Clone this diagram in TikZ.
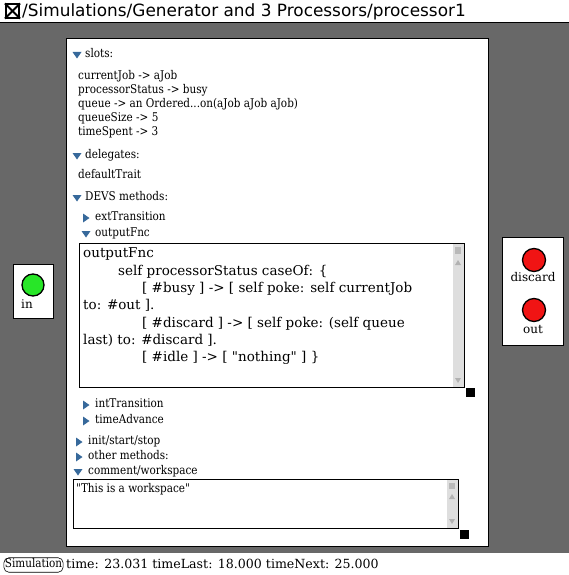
\documentclass[tikz,border=0pt]{standalone}
\usepackage{fontspec}
\setmainfont{DejaVu Serif}[Ligatures=TeXOff]
\newfontfamily\slotfont{DejaVu Serif}[FakeStretch=0.87, Ligatures=TeXOff]
\newfontfamily\titlefont{DejaVu Sans}
\definecolor{bggray}{RGB}{104,104,104}
\definecolor{tricol}{RGB}{55,105,155}
\definecolor{portgreen}{RGB}{40,230,40}
\definecolor{portred}{RGB}{240,20,20}
\definecolor{trackgray}{RGB}{222,222,222}
\begin{document}
\begin{tikzpicture}[x=1pt,y=-1pt,
  lbl/.style={anchor=west, inner sep=0, font=\slotfont\fontsize{12}{13}\selectfont, text height=8.5pt, text depth=3pt},
  codeln/.style={anchor=west, inner sep=0, font=\fontsize{13.5}{16}\selectfont, text height=10pt, text depth=3.5pt},
  portlbl/.style={inner sep=0, font=\fontsize{12}{14}\selectfont, text height=8.5pt, text depth=3pt},
  box/.style={draw=black, line width=0.8pt, fill=white},
  port/.style={draw=black, line width=1.3pt},
  handle/.style={fill=black},
  tdown/.pic={\fill[tricol] (-4.5,-3) -- (4.5,-3) -- (0,3.5) -- cycle;},
  tright/.pic={\fill[tricol] (-3,-4.5) -- (-3,4.5) -- (3.5,0) -- cycle;}
]
\useasboundingbox (0,0) rectangle (569,575);
\fill[white] (0,0) rectangle (569,575);
% gray workspace
\fill[bggray] (0,22) rectangle (569,553);
\draw[black, line width=1pt] (0,22.5) -- (569,22.5);

% title bar
\node[draw=black, line width=1.6pt, minimum size=13.5pt, inner sep=0] (closebox) at (12.5,11) {};
\draw[line width=2pt] (closebox.north west) -- (closebox.south east);
\draw[line width=2pt] (closebox.north east) -- (closebox.south west);
\node[anchor=west, inner sep=0, font=\titlefont\fontsize{16.9}{17}\selectfont] (title) at (22,11.5) {/Simulations/Generator and 3 Processors/processor1};

% main panel
\draw[box] (66,38) rectangle (488,546);

% slots
\pic at (77,55) {tdown};
\node[lbl] (slots) at (85,55) {slots:};
\node[lbl] (s1) at (78,77) {currentJob -> aJob};
\node[lbl] (s2) at (78,91) {processorStatus -> busy};
\node[lbl] (s3) at (78,105) {queue -> an Ordered...on(aJob aJob aJob)};
\node[lbl] (s4) at (78,119) {queueSize -> 5};
\node[lbl] (s5) at (78,133) {timeSpent -> 3};
% delegates
\pic at (77,156) {tdown};
\node[lbl] (deleg) at (85,156) {delegates:};
\node[lbl] (deftrait) at (78,176) {defaultTrait};
% DEVS methods
\pic at (77,198) {tdown};
\node[lbl] (devs) at (85,198) {DEVS methods:};
\pic at (86,218) {tright};
\node[lbl] (ext) at (95,218) {extTransition};
\pic at (86,234) {tdown};
\node[lbl] (outfnc) at (95,234) {outputFnc};

% code box
\draw[box] (79,243) rectangle (464,387);
\fill[trackgray] (453,244) rectangle (463.5,386.5);
\fill[gray!55] (455,247) rectangle (461,254);
\fill[gray!60] (455,265) -- (461,265) -- (458,260) -- cycle;
\fill[gray!60] (455,378) -- (461,378) -- (458,383) -- cycle;
\node[codeln] (c1) at (83,254) {outputFnc};
\node[codeln] (c2) at (118,272) {self processorStatus caseOf: \{};
\node[codeln] (c3) at (142,289) {[ \#busy ] -> [ self poke: self currentJob};
\node[codeln] (c4) at (83,306) {to: \#out ].};
\node[codeln] (c5) at (142,324) {[ \#discard ] -> [ self poke: (self queue};
\node[codeln] (c6) at (83,341) {last) to: \#discard ].};
\node[codeln] (c7) at (142,358) {[ \#idle ] -> [ "nothing" ] \}};
\fill[handle] (466,388) rectangle (475,397);

\pic at (86,405) {tright};
\node[lbl] (intt) at (95,405) {intTransition};
\pic at (86,421) {tright};
\node[lbl] (tadv) at (95,421) {timeAdvance};
\pic at (79,442) {tright};
\node[lbl] (init) at (88,442) {init/start/stop};
\pic at (79,457) {tright};
\node[lbl] (other) at (88,457) {other methods:};
\pic at (78,472) {tdown};
\node[lbl] (comment) at (88,472) {comment/workspace};

% workspace box
\draw[box] (73,479) rectangle (458,528);
\fill[trackgray] (447,480) rectangle (457.5,527.5);
\fill[gray!55] (449,483) rectangle (455,489);
\fill[gray!60] (449,499) -- (455,499) -- (452,494) -- cycle;
\fill[gray!60] (449,519) -- (455,519) -- (452,524) -- cycle;
\node[lbl] (wstext) at (76,490) {"This is a workspace"};
\fill[handle] (460,530) rectangle (469,539);

% input port
\draw[box] (13.5,264) rectangle (53,318);
\node[port, fill=portgreen, circle, minimum size=22pt, inner sep=0] (inport) at (33,285) {};
\node[portlbl, anchor=west] (inlbl) at (21,306) {in};

% output ports
\draw[box] (502,237) rectangle (563,345);
\node[port, fill=portred, circle, minimum size=23pt, inner sep=0] (discport) at (534,260) {};
\node[portlbl] (disclbl) at (533,279) {discard};
\node[port, fill=portred, circle, minimum size=23pt, inner sep=0] (outport) at (534,310) {};
\node[portlbl] (outlbl) at (533,331) {out};

% status line
\node[draw=black, line width=0.6pt, rounded corners=5pt, inner xsep=1pt, inner ysep=1.5pt, font=\slotfont\fontsize{12}{13}\selectfont, text height=8.5pt, text depth=3pt] (simbtn) at (33.5,565) {Simulation};
\node[anchor=west, inner sep=0, font=\fontsize{12.6}{14}\selectfont, text height=9pt, text depth=3pt] (status) at (66,565) {time: 23.031 timeLast: 18.000 timeNext: 25.000};
\end{tikzpicture}
\end{document}
